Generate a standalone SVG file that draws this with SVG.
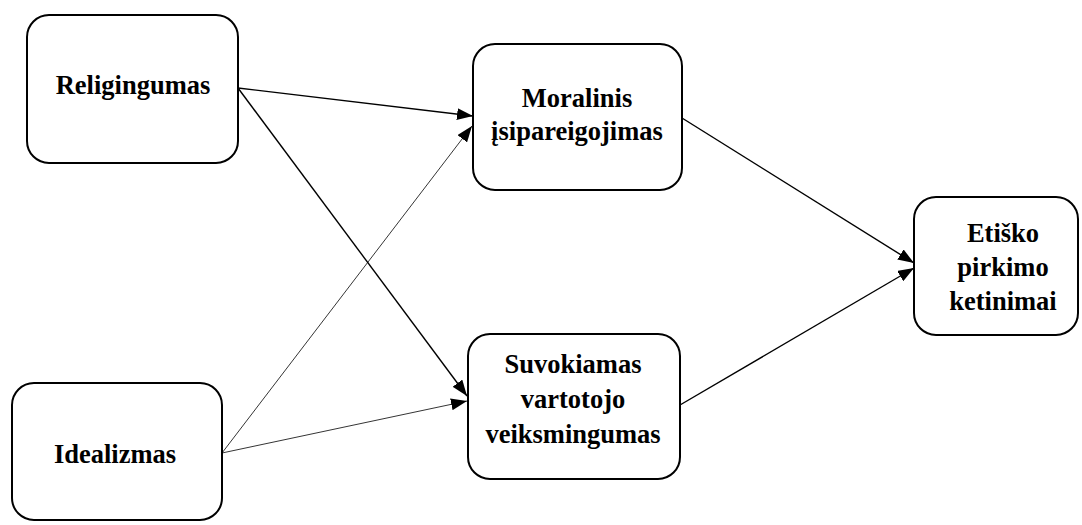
<svg xmlns="http://www.w3.org/2000/svg" width="1082" height="525" viewBox="0 0 1082 525">
  <style>
    .box { fill: #ffffff; stroke: #000000; stroke-width: 2; }
    .lbl { font-family: "Liberation Serif", "Times New Roman", serif; font-weight: bold; font-size: 26.5px; fill: #000000; text-anchor: middle; }
    .edge { stroke: #000000; stroke-width: 1.4; fill: none; marker-end: url(#head); }
    .edge.thin { stroke-width: 0.8; }
  </style>
  <defs>
    <marker id="head" viewBox="0 0 16 12" refX="16" refY="6" markerWidth="16" markerHeight="12" markerUnits="userSpaceOnUse" orient="auto">
      <path d="M0,0 L16,6 L0,12 Z" fill="#000000"/>
    </marker>
  </defs>

  <rect width="1082" height="525" fill="#ffffff"/>

  <g id="connectors">
    <line class="edge" x1="238" y1="88" x2="473" y2="116"/>
    <line class="edge" x1="238" y1="88" x2="467" y2="396"/>
    <line class="edge thin" x1="222" y1="453" x2="472" y2="126"/>
    <line class="edge thin" x1="222" y1="453" x2="467" y2="401"/>
    <line class="edge" x1="682" y1="118" x2="914" y2="263"/>
    <line class="edge" x1="680" y1="405" x2="914" y2="268"/>
  </g>

  <g id="religingumas">
    <rect class="box" x="27" y="15" width="211" height="148" rx="22"/>
    <text class="lbl" x="133" y="94">Religingumas</text>
  </g>

  <g id="idealizmas">
    <rect class="box" x="12" y="383" width="210" height="137" rx="22"/>
    <text class="lbl" x="115" y="463">Idealizmas</text>
  </g>

  <g id="moralinis">
    <rect class="box" x="473" y="44" width="209" height="146" rx="22"/>
    <text class="lbl" x="577" y="107">Moralinis</text>
    <text class="lbl" x="577" y="140">įsipareigojimas</text>
  </g>

  <g id="suvokiamas">
    <rect class="box" x="468" y="334" width="212" height="145" rx="22"/>
    <text class="lbl" x="573" y="373">Suvokiamas</text>
    <text class="lbl" x="573" y="408">vartotojo</text>
    <text class="lbl" x="573" y="443">veiksmingumas</text>
  </g>

  <g id="etisko">
    <rect class="box" x="914" y="197" width="164" height="138" rx="22"/>
    <text class="lbl" x="1003" y="242">Etiško</text>
    <text class="lbl" x="1003" y="276">pirkimo</text>
    <text class="lbl" x="1003" y="310">ketinimai</text>
  </g>
</svg>
